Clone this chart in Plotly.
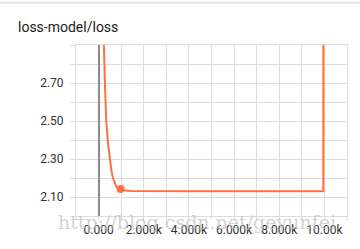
import plotly.graph_objects as go

title_text = "loss-model/loss"
steps = [200, 235, 280, 340, 420, 487, 560, 633, 700, 783, 870, 973, 1100, 1400, 2000, 3000, 4000, 5000,
         6000, 7000, 8000, 9000, 9950, 9960]
loss = [3.60, 2.90, 2.70, 2.50, 2.38, 2.30, 2.245, 2.20, 2.175, 2.155, 2.146, 2.142, 2.135, 2.131, 2.130,
        2.130, 2.130, 2.130, 2.130, 2.130, 2.130, 2.130, 2.130, 4.00]
marker_step = [973]
marker_loss = [2.142]
x_tickvals = [0, 2000, 4000, 6000, 8000, 10000]
x_ticktext = ["0.000", "2.000k", "4.000k", "6.000k", "8.000k", "10.00k"]
y_tickvals = [2.1, 2.3, 2.5, 2.7]
y_ticktext = ["2.10", "2.30", "2.50", "2.70"]
watermark = "http://blog.csdn.net/geyunfei"

LINE = "#ff7043"
GRID = "#dcdcdc"

fig = go.Figure()
fig.add_trace(go.Scatter(x=steps, y=loss, mode="lines",
                         line=dict(color=LINE, width=2), hoverinfo="skip"))
fig.add_trace(go.Scatter(x=marker_step, y=marker_loss, mode="markers",
                         marker=dict(color=LINE, size=8), hoverinfo="skip"))

fig.update_layout(
    width=360, height=249,
    margin=dict(l=76, r=12, t=45, b=26),
    paper_bgcolor="white", plot_bgcolor="white",
    showlegend=False,
    font=dict(family="Roboto", size=12, color="#333333"),
    title=dict(text=title_text, x=18/360, xanchor="left", y=1 - 27/249, yanchor="middle",
               font=dict(family="Roboto", size=14, color="#212121")),
)
fig.update_xaxes(
    range=[-1000, 11000], tickvals=x_tickvals, ticktext=x_ticktext,
    showgrid=True, gridcolor=GRID, gridwidth=1,
    ticks="outside", ticklen=3, tickcolor=GRID,
    minor=dict(dtick=1000, tick0=0, showgrid=True, gridcolor=GRID, ticks="outside", ticklen=3, tickcolor=GRID),
    zeroline=True, zerolinecolor="#8a8a8a", zerolinewidth=1.5,
    showline=True, mirror=True, linecolor=GRID, linewidth=1,
    tickfont=dict(size=12, color="#333333"),
)
fig.update_yaxes(
    range=[2.0, 2.9], tickvals=y_tickvals, ticktext=y_ticktext,
    showgrid=True, gridcolor=GRID, gridwidth=1,
    ticks="outside", ticklen=5, tickcolor=GRID,
    minor=dict(dtick=0.1, tick0=2.0, showgrid=True, gridcolor=GRID, ticks="outside", ticklen=5, tickcolor=GRID),
    zeroline=False,
    showline=True, mirror=True, linecolor=GRID, linewidth=1,
    tickfont=dict(size=12, color="#333333"), ticklabelstandoff=4,
)
fig.add_annotation(text=watermark, xref="paper", yref="paper",
                   x=(197 - 76) / 272, y=-(229 - 223) / 178, xanchor="center", yanchor="middle",
                   showarrow=False,
                   font=dict(family="DejaVu Serif", size=19, color="rgba(190,190,190,0.7)"))
fig.add_shape(type="line", xref="paper", yref="paper", x0=-0.3, x1=1.1, y0=1 + 44/178, y1=1 + 44/178,
              line=dict(color="#e6e6e6", width=2))

fig.write_html("out.html")
